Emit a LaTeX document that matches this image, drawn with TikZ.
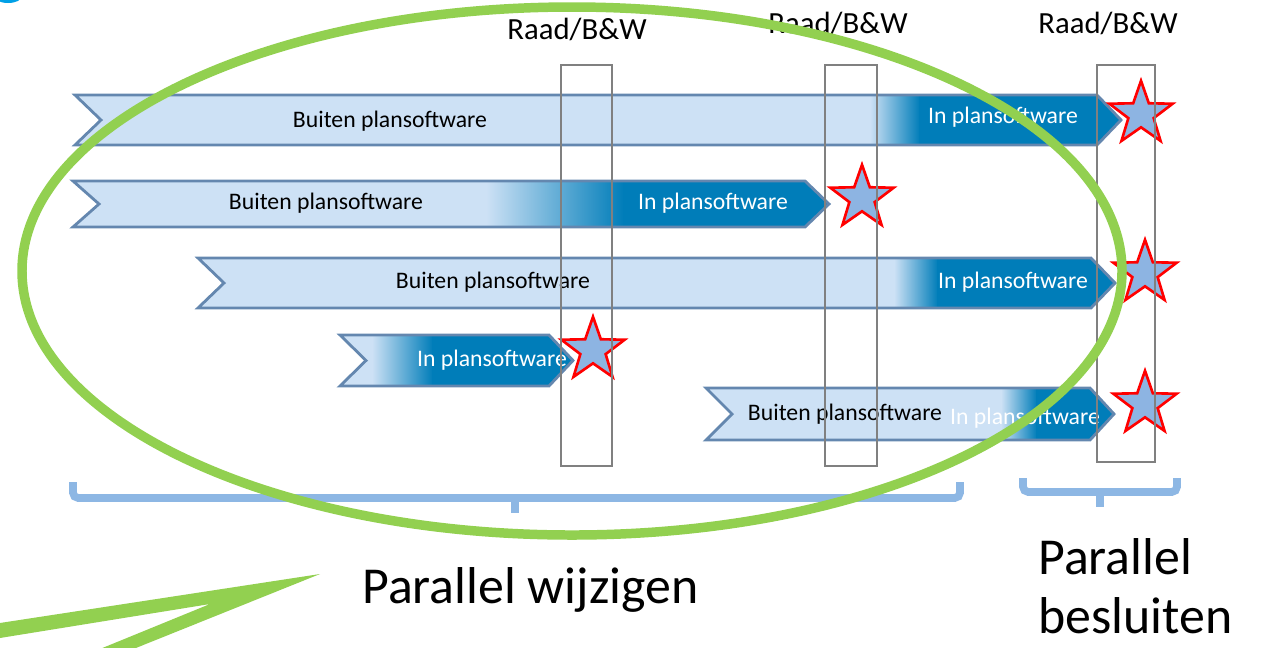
\documentclass[tikz,border=0pt]{standalone}
\usepackage{fontspec}
\setmainfont{Carlito}
\usepackage{xcolor}
\usetikzlibrary{shapes.geometric}

\definecolor{barlight}{RGB}{205,225,245}
\definecolor{bargrey}{RGB}{165,182,204}
\definecolor{bardark}{RGB}{0,125,185}
\definecolor{barrand}{RGB}{100,135,175}
\definecolor{sterblauw}{RGB}{141,180,226}
\definecolor{groen}{RGB}{146,208,80}
\definecolor{haakblauw}{RGB}{141,183,228}
\definecolor{kolomgrijs}{RGB}{128,128,128}
\definecolor{logoblauw}{RGB}{0,160,230}

\begin{document}
\begin{tikzpicture}[x=0.02cm, y=-0.02cm,
        balklijn/.style = {draw=barrand, line width=1.6pt, line join=miter},
        buiten/.style = {anchor=base, inner sep=0pt, font=\fontsize{13.5}{16}\selectfont},
        binnen/.style = {buiten, text=white},
        ster/.style = {star, star points=5, star point ratio=2.5, minimum size=1.33cm,
            inner sep=0pt, fill=sterblauw, draw=red, line width=1.5pt},
        kolom/.style = {draw=kolomgrijs, line width=1.4pt},
        raad/.style = {anchor=base, inner sep=0pt, font=\fontsize{17.5}{20}\selectfont},
        haak/.style = {draw=haakblauw, line width=4.4pt, rounded corners=3pt},
        groot/.style = {anchor=base west, inner sep=0pt, font=\fontsize{29.5}{35}\selectfont}]
        \useasboundingbox (0,0) rectangle (1263,647);
        \clip (0,0) rectangle (1263,647);

        % logo rest top left
        \fill[logoblauw] (8,-4) ellipse [x radius=14, y radius=7];

        % plan bars: left x / top / bottom / head x / shade from / shade to
        \foreach \xl/\yt/\yb/\xe/\ga/\gb in {75/95/145/1097/870/920, 73/181/227/805/486/624,
            198/258/308/1091/894/938, 340/335/386/549/372/433, 706/388/440/1090/1001/1037}{
            \begin{scope}
                \clip (\xl,\yt) -- (\xe,\yt) -- ({\xe+24},{(\yt+\yb)/2}) -- (\xe,\yb)
                    -- (\xl,\yb) -- ({\xl+26},{(\yt+\yb)/2}) -- cycle;
                \fill[barlight] (\xl-5,\yt) rectangle (\ga+1,\yb);
                \shade[left color=barlight, middle color=bargrey, right color=bardark]
                    (\ga,\yt) rectangle (\gb,\yb);
                \fill[bardark] (\gb-1,\yt) rectangle ({\xe+30},\yb);
            \end{scope}
            \draw[balklijn] (\xl,\yt) -- (\xe,\yt) -- ({\xe+24},{(\yt+\yb)/2}) -- (\xe,\yb)
                -- (\xl,\yb) -- ({\xl+26},{(\yt+\yb)/2}) -- cycle;
        }

        \node[buiten] (buiten1) at (390,127) {Buiten plansoftware};
        \node[binnen] (binnen1) at (1003,123) {In plansoftware};
        \node[buiten] (buiten2) at (326,209) {Buiten plansoftware};
        \node[binnen] (binnen2) at (713,209) {In plansoftware};
        \node[buiten] (buiten3) at (493,288) {Buiten plansoftware};
        \node[binnen] (binnen3) at (1013,288) {In plansoftware};
        \node[binnen] (binnen4) at (492,366) {In plansoftware};
        \node[buiten] (buiten5) at (845,420) {Buiten plansoftware};
        \node[binnen] (binnen5) at (1025,424) {In plansoftware};

        % besluit stars
        \node[ster] (ster1) at (1141,114) {};
        \node[ster] (ster2) at (862,198) {};
        \node[ster] (ster3) at (1145,273) {};
        \node[ster] (ster4) at (593,350) {};
        \node[ster] (ster5) at (1145,404) {};

        % Raad/B&W moments
        \draw[kolom] (561,65) rectangle (612,466);
        \draw[kolom] (825,65) rectangle (877,466);
        \draw[kolom] (1097,65) rectangle (1155,462);
        \node[raad] (raad1) at (577,39) {Raad/B\&W};
        \node[raad] (raad2) at (838,33) {Raad/B\&W};
        \node[raad] (raad3) at (1108,33) {Raad/B\&W};

        % brackets
        \draw[haak] (73,482) -- (73,498) -- (960,498) -- (960,482);
        \draw[haak] (515,498) -- (515,513);
        \draw[haak] (1023,478) -- (1023,492) -- (1177,492) -- (1177,478);
        \draw[haak] (1100,492) -- (1100,507);

        % green ellipse and arrow
        \draw[groen, line width=5.4pt] (572,271) ellipse [x radius=550, y radius=264];
        \fill[groen] (-10,624.5) -- (320,574) -- (106,660) -- (73,660) -- (210,604)
            -- (-10,639.6) -- cycle;

        \node[groot] (wijzigen) at (362,603) {Parallel wijzigen};
        \node[groot] (besluiten1) at (1038,574) {Parallel};
        \node[groot] (besluiten2) at (1038,633) {besluiten};
    \end{tikzpicture}
\end{document}
